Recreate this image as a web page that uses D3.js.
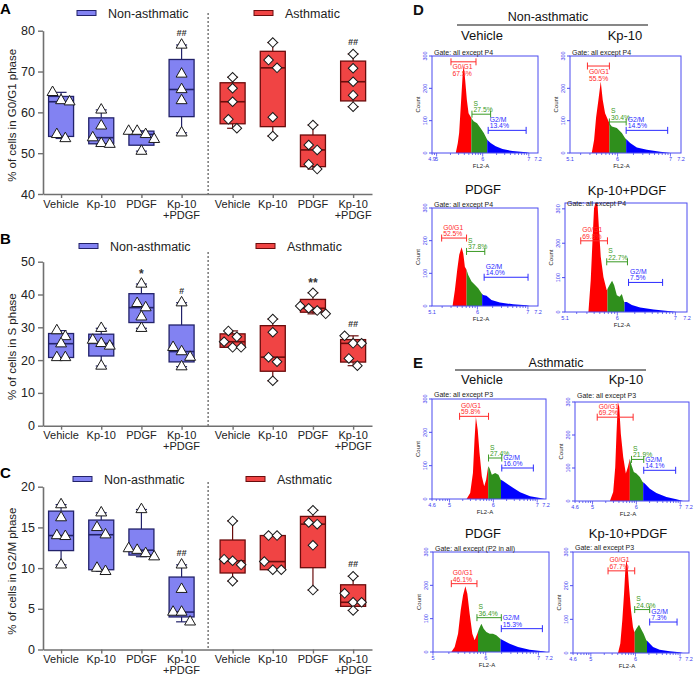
<!DOCTYPE html>
<html><head><meta charset="utf-8">
<script src="https://cdn.jsdelivr.net/npm/d3@7"></script>
<style>body{margin:0;background:#fff}svg{display:block;font-family:"Liberation Sans",Arial,sans-serif}</style>
</head><body><svg id="c" width="700" height="676"></svg>
<script>
// ---------------- DATA ----------------
const categories = ["Vehicle", "Kp-10", "PDGF", "Kp-10|+PDGF"];
const groupNames = ["Non-asthmatic", "Asthmatic"];

// Panel A: % of cells in G0/G1 phase (5 donors per condition)
const g0g1NonAsthmatic = [[64.9,62.6,62.9,53.6,54.6],[60.6,56.7,53.8,52.2,52.4],[55.4,54.6,55.4,53.4,50.5],[76.5,69.4,65.6,62.9,55.0]];
const g0g1Asthmatic    = [[68.6,65.9,62.6,58.3,56.1],[77.1,72.8,70.9,58.8,54.2],[56.9,50.8,52.0,47.3,46.1],[74.3,70.8,67.5,64.2,61.4]];
// Panel B: % of cells in S phase
const sNonAsthmatic = [[29.0,27.2,25.0,20.8,20.8],[29.7,26.1,25.1,24.3,18.2],[43.2,36.0,37.3,33.2,29.7],[37.5,23.9,22.6,20.9,18.0]];
const sAsthmatic    = [[28.9,27.1,25.6,23.9,23.9],[32.5,28.5,20.9,19.5,13.7],[40.5,36.5,35.8,35.1,34.1],[27.4,25.1,25.1,20.5,18.3]];
// Panel C: % of cells in G2/M phase
const g2mNonAsthmatic = [[17.8,16.2,14.0,13.9,10.4],[16.8,15.0,14.1,9.6,10.0],[17.2,12.4,12.2,11.8,11.4],[10.4,7.4,4.6,4.6,3.4]];
const g2mAsthmatic    = [[15.8,11.1,10.4,10.9,8.4],[14.0,14.0,10.8,9.8,9.8],[17.1,15.4,15.6,12.8,7.3],[9.0,6.9,5.8,5.8,4.8]];

const annotA = [["","","","##"],["","","","##"]];
const annotB = [["","","*","#"],["","","**","##"]];
const annotC = [["","","","##"],["","","","##"]];
const ticksA = [40,50,60,70,80];
const ticksB = [0,10,20,30,40,50];
const ticksC = [0,5,10,15,20];

// Panels D/E: flow-cytometry histograms  [channel % of axis, count]
const histNonVehicle = [[22.4,0],[24.3,30],[25.6,62],[27.5,164],[29.1,252],[30.0,270],[31.3,226],[32.9,164],[34.5,123],[37.1,108],[39.3,98],[42.5,92],[45.7,77],[48.9,62],[52.1,41],[55.3,31],[60.1,21],[66.5,12],[76.0,6],[88.8,2],[92,0]];
const histNonKp10 = [[19.6,0],[21.7,40],[23.5,110],[25.6,164],[27.7,221],[29.5,164],[31.6,123],[35.5,92],[37.7,82],[42.2,77],[46.7,62],[49.7,46],[51.2,41],[54.2,31],[60.2,17],[69.3,10],[81.3,4],[90.4,0]];
const histNonPDGF = [[19.4,0],[21.6,49],[23.8,111],[25.7,157],[27.9,180],[29.5,161],[31.0,120],[32.6,111],[34.2,95],[37.3,75],[40.4,65],[43.6,54],[46.7,39],[48.3,34],[51.4,31],[56.1,18],[64.0,11],[76.5,5],[89.0,2],[92.2,0]];
const histNonKpPDGF = [[19.2,0],[21.1,93],[22.7,220],[23.8,302],[24.9,330],[26.6,330],[27.9,239],[29.3,161],[31.5,102],[34.2,63],[36.4,78],[38.6,91],[40.3,78],[42.5,49],[44.7,44],[46.6,52],[48.5,29],[50.7,29],[54.8,20],[61.6,13],[72.6,7],[86.3,2],[91.8,0]];
const histAsthVehicle = [[30.3,0],[33.5,18],[35.9,78],[37.3,178],[38.5,246],[40.1,208],[41.7,138],[43.7,68],[45.8,38],[47.5,58],[49.3,98],[50.4,93],[52.5,73],[55.4,78],[58.3,73],[60.3,58],[62.7,53],[67.1,43],[71.4,33],[77.3,20],[86.0,8],[94.8,3],[99,0]];
const histAsthKp10 = [[30.6,0],[33.5,27],[35.3,103],[36.4,204],[37.6,300],[38.8,285],[40.2,204],[42.3,133],[44.6,83],[46.4,103],[48.1,128],[49.6,108],[51.6,88],[53.9,83],[56.9,73],[59.2,58],[61.2,53],[65.6,37],[71.4,24],[80.2,12],[88.9,5],[94.8,0]];
const histAsthPDGF = [[15.8,0],[18.7,15],[21.6,55],[23.9,125],[25.9,170],[27.9,197],[29.6,175],[31.6,115],[33.9,55],[35.9,35],[38.2,55],[39.7,70],[41.7,85],[43.7,70],[46.0,60],[48.9,55],[51.7,55],[54.6,50],[58.0,40],[60.3,35],[66.1,25],[73.3,15],[83.3,7],[94.8,2],[97.7,0]];
const histAsthKpPDGF = [[38.8,0],[40.8,28],[42.5,97],[44.0,176],[45.1,246],[46.0,277],[47.1,255],[48.3,196],[50.0,127],[51.7,77],[52.9,62],[54.6,72],[56.9,84],[58.6,72],[60.9,57],[63.2,38],[64.9,33],[69.0,18],[74.7,10],[83.3,5],[92.0,2],[94.8,0]];

// phase boundaries (red|green, green|blue) in channel %
const splitNonVehicle = [37.1,52.1], splitNonKp10 = [35.5,50.6], splitNonPDGF = [32.6,47.3], splitNonKpPDGF = [34.8,48.8];
const splitAsthVehicle = [49.3,60.6], splitAsthKp10 = [48.1,59.8], splitAsthPDGF = [38.8,58.3], splitAsthKpPDGF = [53.2,63.8];

// gate markers: [name, percent, from, to, count level]
const gatesNonVehicle = [["G0/G1","67.5%",17.9,41.5,282],["S","27.5%",37.7,55.3,120],["G2/M","13.4%",53,88.8,70]];
const gatesNonKp10    = [["G0/G1","55.5%",15.7,35.5,269],["S","30.4%",35.5,50.6,96],["G2/M","14.5%",50.6,88.0,70]];
const gatesNonPDGF    = [["G0/G1","52.5%",9.1,32.6,208],["S","37.8%",32.6,49.8,167],["G2/M","14.0%",49.2,90.6,88]];
const gatesNonKpPDGF  = [["G0/G1","69.8%",12.9,34.8,207],["S","22.7%",34.2,51.2,146],["G2/M","7.5%",52.1,80.0,86]];
const gatesAsthVehicle = [["G0/G1","59.8%",24.2,49.6,248],["S","27.4%",49.6,61.2,123],["G2/M","16.0%",61.2,88.9,93]];
const gatesAsthKp10    = [["G0/G1","69.2%",19.5,51.0,254],["S","21.9%",49.6,60.3,126],["G2/M","14.1%",60.3,88.3,93]];
const gatesAsthPDGF    = [["G0/G1","46.1%",15.8,37.9,205],["S","36.4%",37.9,58.9,103],["G2/M","15.3%",58.9,94.3,70]];
const gatesAsthKpPDGF  = [["G0/G1","67.7%",30.2,53.2,244],["S","24.0%",53.2,66.1,129],["G2/M","7.3%",66.1,89.7,92]];

// FL2-A axis range (log10 exponent)
const expNonVehicle = [4.9,7.2], expNonOther = [5.1,7.2], expAsthA = [4.6,7.2], expAsthPDGF = [5.0,7.2];
const countTicks = [0,100,200,300];

// ---------------- DRAW ----------------
const svg = d3.select("#c");
const defs = svg.append("defs");

const xCat = d3.scaleLinear().domain([-0.45, 7.74]).range([43, 372]);
const slot = (gi, ci) => gi * 4.27 + ci;

function quant(s, p) {
  const n = s.length, pos = (n + 1) * p;
  if (pos <= 1) return s[0];
  if (pos >= n) return s[n - 1];
  const lo = Math.floor(pos);
  return s[lo - 1] + (pos - lo) * (s[lo] - s[lo - 1]);
}

const styles = [
  {fill: "#8282f2", stroke: "#22226a"},
  {fill: "#f04444", stroke: "#6a0c0c"}
];

function boxPanel(cfg) {
  const g = svg.append("g");
  const y = d3.scaleLinear().domain(cfg.domain).range([cfg.bottom, cfg.top]);

  const ya = g.append("g").attr("transform", `translate(${xCat.range()[0]},0)`)
    .call(d3.axisLeft(y).tickValues(cfg.ticks).tickSize(5).tickSizeOuter(0).tickPadding(3));
  ya.select(".domain").attr("stroke", "#707070").attr("stroke-width", 1.6);
  ya.selectAll(".tick line").attr("stroke", "#707070").attr("stroke-width", 1.4);
  ya.selectAll("text").attr("font-size", 12.5).attr("font-family", '"Liberation Sans",Arial,sans-serif').attr("fill", "#222");

  const tv = [];
  for (let gi = 0; gi < 2; gi++) for (let ci = 0; ci < 4; ci++) tv.push(slot(gi, ci));
  const xa = g.append("g").attr("transform", `translate(0,${cfg.bottom})`)
    .call(d3.axisBottom(xCat).tickValues(tv).tickSize(4).tickSizeOuter(0).tickFormat(""));
  xa.select(".domain").attr("stroke", "#707070").attr("stroke-width", 1.6);
  xa.selectAll(".tick line").attr("stroke", "#707070").attr("stroke-width", 1.4);

  tv.forEach((v, i) => {
    const lines = categories[i % 4].split("|");
    const t = g.append("text").attr("x", xCat(v)).attr("y", cfg.bottom + 13.5)
      .attr("text-anchor", "middle").attr("font-size", 11).attr("fill", "#222");
    lines.forEach((l, k) => t.append("tspan").attr("x", xCat(v)).attr("dy", k ? 11 : 0).text(l));
  });

  g.append("text").attr("transform", `translate(${cfg.titleX},${(cfg.top + cfg.bottom) / 2 + 3}) rotate(-90)`)
    .attr("text-anchor", "middle").attr("font-size", 11.5).attr("fill", "#222").text(cfg.title);

  g.append("line").attr("x1", xCat(3.66)).attr("x2", xCat(3.66))
    .attr("y1", cfg.dashTop).attr("y2", cfg.bottom)
    .attr("stroke", "#333").attr("stroke-width", 1).attr("stroke-dasharray", "2,2");

  groupNames.forEach((name, gi) => {
    const st = styles[gi];
    const lx = cfg.legendX[gi];
    g.append("rect").attr("x", lx).attr("y", cfg.legendY - 2.5).attr("width", 19).attr("height", 5)
      .attr("fill", st.fill).attr("stroke", st.stroke).attr("stroke-width", 1);
    g.append("text").attr("x", lx + 31).attr("y", cfg.legendY + 4.5).attr("font-size", 12.5)
      .attr("fill", "#222").text(name);
  });

  [cfg.non, cfg.asth].forEach((groupData, gi) => {
    const st = styles[gi];
    groupData.forEach((vals, ci) => {
      const cx = xCat(slot(gi, ci));
      const s = vals.slice().sort(d3.ascending);
      const q1 = quant(s, 0.25), med = quant(s, 0.5), q3 = quant(s, 0.75);
      const mn = s[0], mx = s[s.length - 1];
      const bw = 25, cw = 11;
      const lineC = st.stroke;
      g.append("line").attr("x1", cx).attr("x2", cx).attr("y1", y(mx)).attr("y2", y(q3)).attr("stroke", lineC).attr("stroke-width", 1.2);
      g.append("line").attr("x1", cx).attr("x2", cx).attr("y1", y(q1)).attr("y2", y(mn)).attr("stroke", lineC).attr("stroke-width", 1.2);
      [mn, mx].forEach(v => g.append("line").attr("x1", cx - cw / 2).attr("x2", cx + cw / 2)
        .attr("y1", y(v)).attr("y2", y(v)).attr("stroke", lineC).attr("stroke-width", 1.2));
      g.append("rect").attr("x", cx - bw / 2).attr("y", y(q3)).attr("width", bw).attr("height", Math.max(0.5, y(q1) - y(q3)))
        .attr("fill", st.fill).attr("stroke", lineC).attr("stroke-width", 1.3);
      g.append("line").attr("x1", cx - bw / 2).attr("x2", cx + bw / 2).attr("y1", y(med)).attr("y2", y(med))
        .attr("stroke", lineC).attr("stroke-width", 1.6);

      const pts = vals.map(v => ({v, py: y(v)})).sort((a, b) => a.py - b.py);
      const rows = [];
      pts.forEach(p => {
        const r = rows[rows.length - 1];
        if (r && p.py - r[0].py < 10) r.push(p); else rows.push([p]);
      });
      rows.forEach(r => r.forEach((p, k) => { p.dx = (k - (r.length - 1) / 2) * 8.5; }));
      const sym = gi === 0 ? d3.symbol(d3.symbolTriangle, 52) : d3.symbol(d3.symbolSquare, 46);
      pts.forEach(p => {
        g.append("path").attr("d", sym())
          .attr("transform", `translate(${cx + p.dx},${p.py})` + (gi === 1 ? " rotate(45)" : ""))
          .attr("fill", "#fff").attr("stroke", "#1a1a1a").attr("stroke-width", 1);
      });

      const a = cfg.annot[gi][ci];
      if (a) {
        const star = a.indexOf("*") >= 0;
        g.append("text").attr("x", cx).attr("y", y(mx) - (star ? 6 : 9))
          .attr("text-anchor", "middle").attr("font-size", star ? 12 : 9)
          .attr("font-style", star ? "normal" : "italic").attr("font-weight", "bold")
          .attr("fill", "#333").text(a);
      }
    });
  });

  svg.append("text").attr("x", 0).attr("y", cfg.letterY).attr("font-size", 15).attr("font-weight", "bold").text(cfg.letter);
}

boxPanel({letter: "A", letterY: 14, title: "% of cells in G0/G1 phase", domain: [40, 80], ticks: ticksA,
  top: 30.7, bottom: 194, titleX: 16, dashTop: 13, legendY: 13, legendX: [77, 254],
  non: g0g1NonAsthmatic, asth: g0g1Asthmatic, annot: annotA});
boxPanel({letter: "B", letterY: 244, title: "% of cells in S phase", domain: [0, 50], ticks: ticksB,
  top: 261.7, bottom: 425.7, titleX: 16, dashTop: 252, legendY: 246, legendX: [79, 256],
  non: sNonAsthmatic, asth: sAsthmatic, annot: annotB});
boxPanel({letter: "C", letterY: 478, title: "% of cells in G2/M phase", domain: [0, 20], ticks: ticksC,
  top: 486.7, bottom: 649.5, titleX: 16, dashTop: 482, legendY: 479, legendX: [73, 246],
  non: g2mNonAsthmatic, asth: g2mAsthmatic, annot: annotC});

// ---------- flow histograms ----------
const phaseFill = ["#ff0000", "#2f8f1c", "#0000ff"];
const phaseText = ["#ff2a2a", "#3a9a24", "#2a2aff"];
const frameC = "#4b4bf0";

function histPanel(h) {
  const g = svg.append("g");
  const x = d3.scaleLinear().domain([0, 100]).range([h.x0, h.x1]);
  const y = d3.scaleLinear().domain([0, h.top]).range([h.y1, h.y0]);
  const xe = d3.scaleLinear().domain(h.exp).range([h.x0, h.x1]);
  const area = d3.area().x(d => x(d[0])).y0(h.y1).y1(d => y(Math.min(d[1], h.top)));
  const bounds = [0, h.splits[0], h.splits[1], 100];
  for (let k = 0; k < 3; k++) {
    const cid = `clip-${h.id}-${k}`;
    defs.append("clipPath").attr("id", cid).append("rect")
      .attr("x", x(bounds[k])).attr("y", h.y0).attr("width", x(bounds[k + 1]) - x(bounds[k])).attr("height", h.y1 - h.y0);
    g.append("path").datum(h.data).attr("d", area).attr("fill", phaseFill[k]).attr("clip-path", `url(#${cid})`);
  }
  g.append("rect").attr("x", h.x0).attr("y", h.y0).attr("width", h.x1 - h.x0).attr("height", h.y1 - h.y0)
    .attr("fill", "none").attr("stroke", frameC).attr("stroke-width", 1);

  h.gates.forEach((gt, k) => {
    const [name, pct, a, b, c] = gt;
    const ly = y(c), col = phaseText[k];
    g.append("line").attr("x1", x(a)).attr("x2", x(b)).attr("y1", ly).attr("y2", ly).attr("stroke", col).attr("stroke-width", 1);
    [a, b].forEach(v => g.append("line").attr("x1", x(v)).attr("x2", x(v)).attr("y1", ly - 3.5).attr("y2", ly + 3.5).attr("stroke", col).attr("stroke-width", 1));
    const below = ly - 13 < h.y0;
    g.append("text").attr("x", x(a) + 1.5).attr("y", below ? ly + 7.5 : ly - 8.5).attr("font-size", 6.8).attr("fill", col).text(name);
    g.append("text").attr("x", x(a) + 1.5).attr("y", below ? ly + 14.5 : ly - 2).attr("font-size", 6.8).attr("fill", col).text(pct);
  });

  g.append("text").attr("x", h.x0 + 2).attr("y", h.y0 + h.gateDy).attr("font-size", 7).attr("fill", "#222").text(h.gate);

  countTicks.filter(t => t <= h.top).forEach(t => {
    g.append("line").attr("x1", h.x0 - 3).attr("x2", h.x0).attr("y1", y(t)).attr("y2", y(t)).attr("stroke", frameC);
    g.append("text").attr("transform", `translate(${h.x0 - 5},${y(t)}) rotate(-90)`).attr("text-anchor", "middle")
      .attr("font-size", 5.5).attr("fill", "#3a3af0").text(t);
  });
  g.append("text").attr("transform", `translate(${h.x0 - 12},${(h.y0 + h.y1) / 2}) rotate(-90)`).attr("text-anchor", "middle")
    .attr("font-size", 6).attr("fill", "#222").text("Count");

  for (let n = Math.floor(h.exp[0]); n <= Math.ceil(h.exp[1]); n++) {
    for (let k = 1; k <= 9; k++) {
      const v = n + Math.log10(k);
      if (v < h.exp[0] || v > h.exp[1]) continue;
      g.append("line").attr("x1", xe(v)).attr("x2", xe(v)).attr("y1", h.y1).attr("y2", h.y1 + (k === 1 ? 3.5 : 2))
        .attr("stroke", frameC).attr("stroke-width", 0.8);
    }
  }
  const labs = [h.exp[0]];
  for (let n = Math.ceil(h.exp[0] + 0.1); n < h.exp[1]; n++) labs.push(n);
  labs.push(h.exp[1]);
  labs.forEach(v => g.append("text").attr("x", xe(v)).attr("y", h.y1 + 8).attr("text-anchor", "middle")
    .attr("font-size", 5.5).attr("fill", "#3a3af0").text(v));
  g.append("text").attr("x", (h.x0 + h.x1) / 2 - 4).attr("y", h.y1 + 15).attr("text-anchor", "middle")
    .attr("font-size", 6).attr("fill", "#222").text("FL2-A");
}

const histPanels = [
  {id: "d1", data: histNonVehicle, splits: splitNonVehicle, gates: gatesNonVehicle, exp: expNonVehicle, top: 300, x0: 432, x1: 538, y0: 56, y1: 153, gate: "Gate: all except P4", gateDy: -1.5},
  {id: "d2", data: histNonKp10, splits: splitNonKp10, gates: gatesNonKp10, exp: expNonOther, top: 300, x0: 570, x1: 681, y0: 56, y1: 153, gate: "Gate: all except P4", gateDy: -1.5},
  {id: "d3", data: histNonPDGF, splits: splitNonPDGF, gates: gatesNonPDGF, exp: expNonOther, top: 300, x0: 432, x1: 538, y0: 208, y1: 306, gate: "Gate: all except P4", gateDy: -1.5},
  {id: "d4", data: histNonKpPDGF, splits: splitNonKpPDGF, gates: gatesNonKpPDGF, exp: expNonOther, top: 317, x0: 565, x1: 687, y0: 203, y1: 312, gate: "Gate: all except P4", gateDy: 3},
  {id: "e1", data: histAsthVehicle, splits: splitAsthVehicle, gates: gatesAsthVehicle, exp: expAsthA, top: 300, x0: 432, x1: 546, y0: 399, y1: 499, gate: "Gate: all except P3", gateDy: -2},
  {id: "e2", data: histAsthKp10, splits: splitAsthKp10, gates: gatesAsthKp10, exp: expAsthA, top: 300, x0: 575, x1: 689, y0: 402, y1: 501, gate: "Gate: all except P3", gateDy: -4},
  {id: "e3", data: histAsthPDGF, splits: splitAsthPDGF, gates: gatesAsthPDGF, exp: expAsthPDGF, top: 300, x0: 433, x1: 549, y0: 552, y1: 652, gate: "Gate: all except (P2 in all)", gateDy: -1.5},
  {id: "e4", data: histAsthKpPDGF, splits: splitAsthKpPDGF, gates: gatesAsthKpPDGF, exp: expAsthA, top: 300, x0: 573, x1: 689, y0: 552, y1: 653, gate: "Gate: all except P3", gateDy: -2.5}
];
histPanels.forEach(histPanel);

function txt(x, y, s, size, anchor, weight) {
  svg.append("text").attr("x", x).attr("y", y).attr("font-size", size).attr("text-anchor", anchor || "middle")
    .attr("font-weight", weight || "normal").attr("fill", "#111").text(s);
}
txt(413, 15, "D", 15, "start", "bold");
txt(413, 368, "E", 15, "start", "bold");
txt(548, 21, groupNames[0], 12.5);
svg.append("line").attr("x1", 457).attr("x2", 648).attr("y1", 25).attr("y2", 25).attr("stroke", "#111").attr("stroke-width", 1.2);
txt(482, 40, "Vehicle", 13); txt(625, 40, "Kp-10", 13);
txt(483, 194, "PDGF", 13); txt(627, 195, "Kp-10+PDGF", 13);
txt(556, 367, groupNames[1], 12.5);
svg.append("line").attr("x1", 455).attr("x2", 646).attr("y1", 370).attr("y2", 370).attr("stroke", "#111").attr("stroke-width", 1.2);
txt(482, 384, "Vehicle", 13); txt(626, 384, "Kp-10", 13);
txt(483, 538, "PDGF", 13); txt(628, 538, "Kp-10+PDGF", 13);
</script></body></html>
